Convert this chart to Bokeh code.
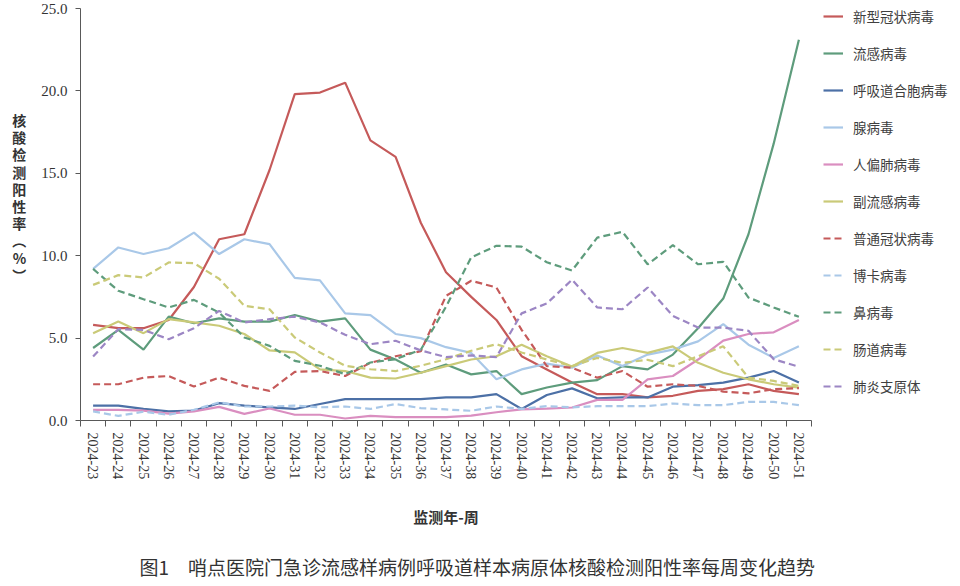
import math
from bokeh.plotting import figure
from bokeh.models import (Range1d, FixedTicker, PrintfTickFormatter, Legend, LegendItem, Title)
from bokeh.embed import file_html
from bokeh.resources import INLINE

weeks = ["2024-23", "2024-24", "2024-25", "2024-26", "2024-27", "2024-28", "2024-29", "2024-30",
         "2024-31", "2024-32", "2024-33", "2024-34", "2024-35", "2024-36", "2024-37", "2024-38",
         "2024-39", "2024-40", "2024-41", "2024-42", "2024-43", "2024-44", "2024-45", "2024-46",
         "2024-47", "2024-48", "2024-49", "2024-50", "2024-51"]

covid = [5.8, 5.6, 5.6, 6.1, 8.1, 11.0, 11.3, 15.2, 19.8, 19.9, 20.5, 17.0, 16.0, 12.0, 9.0, 7.5,
         6.1, 3.9, 3.1, 2.3, 1.6, 1.6, 1.4, 1.5, 1.8, 1.9, 2.2, 1.8, 1.6]
flu = [4.4, 5.5, 4.3, 6.3, 5.9, 6.2, 6.0, 6.0, 6.4, 6.0, 6.2, 4.3, 3.7, 2.9, 3.4, 2.8,
       3.0, 1.6, 2.0, 2.3, 2.45, 3.3, 3.1, 4.0, 5.6, 7.4, 11.3, 16.8, 23.1]
rsv = [0.9, 0.9, 0.7, 0.55, 0.6, 1.05, 0.9, 0.8, 0.7, 1.0, 1.3, 1.3, 1.3, 1.3, 1.4, 1.4,
       1.6, 0.7, 1.55, 1.95, 1.35, 1.4, 1.4, 2.05, 2.15, 2.3, 2.6, 3.0, 2.3]
adeno = [9.2, 10.5, 10.1, 10.45, 11.4, 10.1, 11.0, 10.7, 8.65, 8.5, 6.5, 6.4, 5.25, 5.0, 4.45, 4.1,
         2.5, 3.1, 3.45, 3.2, 3.95, 3.3, 4.0, 4.3, 4.8, 5.85, 4.6, 3.8, 4.5]
hmpv = [0.65, 0.65, 0.6, 0.42, 0.55, 0.83, 0.4, 0.73, 0.35, 0.35, 0.12, 0.28, 0.2, 0.2, 0.2, 0.3,
        0.5, 0.68, 0.72, 0.79, 1.25, 1.25, 2.5, 2.7, 3.7, 4.85, 5.25, 5.35, 6.1]
para = [5.3, 6.0, 5.3, 6.15, 5.95, 5.75, 5.25, 4.25, 4.13, 3.1, 3.0, 2.6, 2.55, 2.9, 3.3, 3.7,
        3.9, 4.6, 3.9, 3.28, 4.1, 4.4, 4.1, 4.5, 3.5, 2.9, 2.5, 2.2, 2.0]
hcov = [2.2, 2.2, 2.6, 2.7, 2.06, 2.6, 2.1, 1.8, 2.95, 3.0, 2.7, 3.5, 3.9, 4.2, 7.56, 8.48,
        8.07, 5.5, 3.3, 3.2, 2.6, 3.0, 2.05, 2.2, 2.1, 1.75, 1.65, 1.9, 1.97]
boca = [0.55, 0.28, 0.53, 0.35, 0.65, 1.1, 0.85, 0.85, 0.9, 0.8, 0.85, 0.7, 1.0, 0.75, 0.67, 0.59,
        0.85, 0.7, 0.87, 0.8, 0.87, 0.87, 0.87, 1.03, 0.93, 0.93, 1.13, 1.13, 0.93]
rhino = [9.2, 7.87, 7.36, 6.86, 7.32, 6.55, 5.04, 4.53, 3.62, 3.32, 2.81, 3.52, 3.72, 4.29, 6.9, 9.9,
         10.6, 10.55, 9.6, 9.1, 11.1, 11.45, 9.48, 10.64, 9.48, 9.63, 7.46, 6.86, 6.29]
entero = [8.23, 8.82, 8.68, 9.59, 9.55, 8.6, 6.96, 6.75, 5.04, 4.13, 3.32, 3.11, 3.0, 3.32, 3.72, 4.23,
          4.63, 4.13, 3.7, 3.3, 3.8, 3.5, 3.68, 3.3, 3.9, 4.5, 2.6, 2.4, 2.1]
mp = [3.88, 5.54, 5.5, 4.93, 5.6, 6.65, 5.95, 6.15, 6.3, 5.95, 5.2, 4.63, 4.84, 4.25, 3.85, 3.95,
      3.85, 6.5, 7.1, 8.54, 6.86, 6.75, 8.07, 6.35, 5.64, 5.64, 5.44, 3.72, 3.26]

series_names = ["新型冠状病毒", "流感病毒", "呼吸道合胞病毒", "腺病毒", "人偏肺病毒", "副流感病毒",
                "普通冠状病毒", "博卡病毒", "鼻病毒", "肠道病毒", "肺炎支原体"]
series_values = [covid, flu, rsv, adeno, hmpv, para, hcov, boca, rhino, entero, mp]
series_colors = ["#C55A5A", "#5E9C7C", "#4C70A6", "#A9C8E8", "#DA8EC0", "#CACA78",
                 "#C55A5A", "#A9C8E8", "#5E9C7C", "#CACA78", "#9C86C4"]
series_dashed = [False] * 6 + [True] * 5

y_ticks = [0, 5, 10, 15, 20, 25]
caption = "图1\u3000哨点医院门急诊流感样病例呼吸道样本病原体核酸检测阳性率每周变化趋势"
x_title = "监测年-周"
y_title_chars = ["核", "酸", "检", "测", "阳", "性", "率", "︵", "%", "︶"]

CJK = "Noto Sans CJK SC"
SERIF = "Liberation Serif"

xs = list(range(len(weeks)))

p = figure(frame_width=731, frame_height=412, output_backend="svg", toolbar_location=None,
           x_range=Range1d(-0.5, len(weeks) - 0.5), y_range=Range1d(0, 25),
           min_border_left=80, min_border_right=0, min_border_top=8, min_border_bottom=0)
p.outline_line_color = None
p.xgrid.visible = False
p.ygrid.visible = False
p.background_fill_color = "white"
p.border_fill_color = "white"

items = []
for name, vals, col, dashed in zip(series_names, series_values, series_colors, series_dashed):
    r = p.line(xs, vals, line_color=col, line_width=2.2,
               line_dash="7 4" if dashed else "solid")
    items.append(LegendItem(label=name, renderers=[r]))

legend = Legend(items=items, location=(12, 24), padding=0, margin=0, spacing=17,
                label_height=20, glyph_height=20, glyph_width=20, label_standoff=10,
                border_line_alpha=0, background_fill_alpha=0,
                label_text_font=CJK, label_text_font_size="13.5px", label_text_color="#404040")
p.add_layout(legend, "right")

# x axis
xa = p.xaxis[0]
xa.ticker = FixedTicker(ticks=xs, minor_ticks=[i - 0.5 for i in range(len(weeks) + 1)])
xa.major_label_overrides = {i: w for i, w in zip(xs, weeks)}
xa.major_label_orientation = -math.pi / 2
xa.major_tick_line_color = None
xa.major_tick_out = 0
xa.major_tick_in = 0
xa.minor_tick_out = 6
xa.minor_tick_in = 0
xa.minor_tick_line_color = "#595959"
xa.axis_line_color = "#595959"
xa.major_label_standoff = 6
xa.major_label_text_font = SERIF
xa.major_label_text_font_size = "14px"
xa.major_label_text_color = "#333333"
xa.axis_label = x_title
xa.axis_label_standoff = 24
xa.axis_label_text_font = CJK
xa.axis_label_text_font_size = "15px"
xa.axis_label_text_font_style = "bold"
xa.axis_label_text_color = "#333333"

# y axis
ya = p.yaxis[0]
ya.ticker = FixedTicker(ticks=y_ticks)
ya.formatter = PrintfTickFormatter(format="%.1f")
ya.major_tick_out = 5
ya.major_tick_in = 0
ya.minor_tick_line_color = None
ya.major_tick_line_color = "#595959"
ya.axis_line_color = "#595959"
ya.major_label_standoff = 8
ya.major_label_text_font = SERIF
ya.major_label_text_font_size = "15px"
ya.major_label_text_color = "#333333"
ya.axis_label = "\n".join(y_title_chars + ["\u3000"] * 2)
ya.axis_label_orientation = "horizontal"
ya.axis_label_standoff = 12
ya.axis_label_text_font = CJK
ya.axis_label_text_font_size = "14px"
ya.axis_label_text_font_style = "bold"
ya.axis_label_text_line_height = 0.86
ya.axis_label_text_color = "#333333"

cap = Title(text=caption, align="left", offset=59, standoff=40,
            text_font=CJK, text_font_size="19px", text_font_style="normal",
            text_color="#333333")
p.add_layout(cap, "below")

open("out.html", "w").write(file_html(p, INLINE))
